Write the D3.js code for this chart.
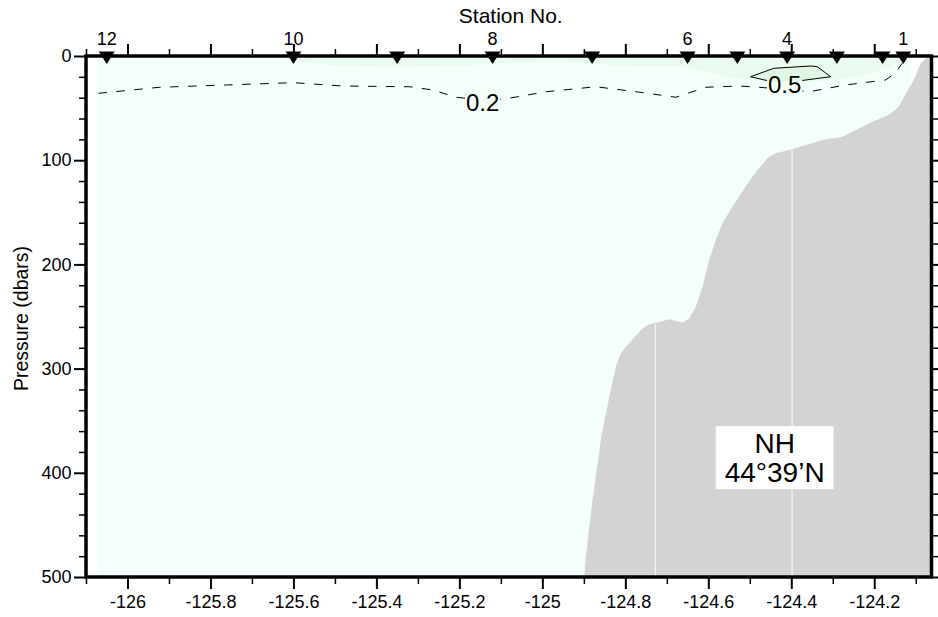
<!DOCTYPE html>
<html><head><meta charset="utf-8">
<script src="https://cdn.jsdelivr.net/npm/d3@7"></script>
<style>
html,body{margin:0;padding:0;background:#fff;}
svg{display:block;}
text{font-family:"Liberation Sans",Arial,Helvetica,sans-serif;fill:#000;}
</style>
</head><body>
<svg id="chart" width="938" height="617"></svg>
<script>
// ---------------- data ----------------
const stationLon = [-126.05, -125.60, -125.35, -125.12, -124.88, -124.65, -124.53, -124.41, -124.29, -124.18, -124.13];
const stationNo  = [12, 10, 9, 8, 7, 6, 5, 4, 3, 2, 1];
const stationLabeled = [12, 10, 8, 6, 4, 1];

const bathyLon = [-124.899, -124.895, -124.887, -124.879, -124.869, -124.859, -124.847, -124.835, -124.823, -124.811,
                  -124.795, -124.762, -124.747, -124.726, -124.694, -124.662, -124.646, -124.630, -124.614, -124.598,
                  -124.582, -124.566, -124.542, -124.526, -124.494, -124.458, -124.438, -124.398, -124.365, -124.325,
                  -124.277, -124.253, -124.205, -124.165, -124.141, -124.119, -124.105, -124.088, -124.071, -124.065];
const bathyP   = [500, 480.5, 451.7, 426.1, 397.3, 368.5, 342.9, 320.5, 298.2, 285.3,
                  277.4, 263.0, 258.2, 256.0, 252.7, 256.0, 251.7, 240.6, 221.4, 195.8,
                  176.6, 160.6, 144.6, 135.0, 115.8, 98.2, 93.4, 89.5, 85.4, 80.6,
                  77.4, 72.6, 63.1, 56.6, 48.7, 32.6, 23.0, 7.0, 1.0, 0];

const c02Lon = [-126.070, -125.922, -125.761, -125.601, -125.481, -125.320, -125.264, -125.208, -125.150, -125.096,
                -124.991, -124.871, -124.774, -124.678, -124.606, -124.526, -124.478, -124.416, -124.357, -124.269,
                -124.173, -124.149, -124.133];
const c02P   = [35.8, 30.0, 27.8, 25.6, 28.8, 29.5, 32.6, 39.6, 42.0, 41.6,
                34.3, 29.5, 34.3, 39.6, 30.0, 28.8, 30.0, 32.0, 34.3, 27.8,
                23.0, 16.6, 7.0];

const c05Lon = [-124.498, -124.442, -124.353, -124.337, -124.305, -124.374, -124.454];
const c05P   = [19.9, 11.8, 9.6, 10.3, 19.9, 23.5, 24.0];

const shadeLon = [-125.633, -125.585, -125.489, -125.344, -125.200, -125.057, -124.959, -124.863, -124.767, -124.671,
                  -124.623, -124.526, -124.430, -124.286, -124.189, -124.129, -124.117];
const shadeP   = [0, 5.8, 9.6, 11.5, 9.6, 5.8, 3.8, 7.7, 11.5, 9.6,
                  13.4, 23.0, 26.0, 24.0, 15.4, 3.8, 0];

const sectionLon = [-126.07, -124.113];
const gapLon = [-124.728, -124.398];

const contourLabelText = ["0.2", "0.5"];
const contourLabelLon  = [-125.144, -124.416];
const contourLabelP    = [44.2, 27.2];

const xMajor = [-126, -125.8, -125.6, -125.4, -125.2, -125, -124.8, -124.6, -124.4, -124.2];
const xMinor = [-126.1, -125.9, -125.7, -125.5, -125.3, -125.1, -124.9, -124.7, -124.5, -124.3, -124.1];
const yMajor = [0, 100, 200, 300, 400, 500];
const yMinor = [20, 40, 60, 80, 120, 140, 160, 180, 220, 240, 260, 280, 320, 340, 360, 380, 420, 440, 460, 480];

const locName = ["NH", "44°39’N"];
const locLon = -124.44, locP = 385;

// ---------------- drawing ----------------
const FONT = '"Liberation Sans",Arial,Helvetica,sans-serif';
const svg = d3.select("#chart");
const x = d3.scaleLinear().domain([-126.1, -124.062]).range([86, 931.5]);
const y = d3.scaleLinear().domain([0, 500]).range([56, 577]);
const X0 = x.range()[0], X1 = x.range()[1], Y0 = y.range()[0], Y1 = y.range()[1];

const defs = svg.append("defs");
defs.append("clipPath").attr("id", "plotclip")
  .append("rect").attr("x", X0).attr("y", Y0).attr("width", X1 - X0).attr("height", Y1 - Y0);
const mask = defs.append("mask").attr("id", "lblmask").attr("maskUnits", "userSpaceOnUse")
  .attr("x", 0).attr("y", 0).attr("width", 938).attr("height", 617);
mask.append("rect").attr("x", 0).attr("y", 0).attr("width", 938).attr("height", 617).attr("fill", "#fff");

const plot = svg.append("g").attr("clip-path", "url(#plotclip)");

// background section fill
plot.append("rect")
  .attr("x", x(sectionLon[0])).attr("y", y(0))
  .attr("width", x(sectionLon[1]) - x(sectionLon[0])).attr("height", y(500) - y(0))
  .attr("fill", "#f5fffa");

// shaded near-surface layer
const shade = shadeLon.map((l, i) => [l, shadeP[i]]);
plot.append("path").datum(shade)
  .attr("d", d3.area().x(d => x(d[0])).y0(y(0)).y1(d => y(d[1])).curve(d3.curveBasis))
  .attr("fill", "#e9faee");

// 0.5 region fill
const c05 = c05Lon.map((l, i) => [l, c05P[i]]);
const closedLine = d3.line().x(d => x(d[0])).y(d => y(d[1])).curve(d3.curveLinearClosed);
plot.append("path").datum(c05).attr("d", closedLine).attr("fill", "#def6e3");

// contour lines (masked under labels)
const lines = plot.append("g").attr("mask", "url(#lblmask)");
const c02 = c02Lon.map((l, i) => [l, c02P[i]]);
lines.append("path").datum(c02)
  .attr("d", d3.line().x(d => x(d[0])).y(d => y(d[1])))
  .attr("fill", "none").attr("stroke", "#000").attr("stroke-width", 1)
  .attr("stroke-dasharray", "8.5,9.5");
lines.append("path").datum(c05).attr("d", closedLine)
  .attr("fill", "none").attr("stroke", "#000").attr("stroke-width", 1);

// bathymetry
const bathy = bathyLon.map((l, i) => [l, bathyP[i]]).concat([[-123.9, 0], [-123.9, 520], [bathyLon[0], 520]]);
plot.append("path").datum(bathy)
  .attr("d", closedLine).attr("fill", "#d3d3d3");

const bathyAt = d3.scaleLinear().domain(bathyLon).range(bathyP);
plot.selectAll("line.gap").data(gapLon).join("line").attr("class", "gap")
  .attr("x1", d => x(d)).attr("x2", d => x(d))
  .attr("y1", d => y(bathyAt(d)) + 1).attr("y2", y(500))
  .attr("stroke", "#fff").attr("stroke-width", 1);

// contour labels
const lbl = plot.selectAll("text.clbl").data(contourLabelText).join("text").attr("class", "clbl")
  .attr("x", (d, i) => x(contourLabelLon[i])).attr("y", (d, i) => y(contourLabelP[i]))
  .attr("dy", "0.36em").attr("text-anchor", "middle")
  .style("font-size", "24px").text(d => d);
lbl.each(function () {
  const b = this.getBBox();
  mask.append("rect").attr("x", b.x - 1).attr("y", b.y + 3).attr("width", b.width + 2).attr("height", b.height - 6).attr("fill", "#000");
});

// axes
const fmt = d => String(+d.toFixed(1));
function styleAxis(g, w) {
  g.select(".domain").remove();
  g.selectAll(".tick line").attr("stroke", "#000").attr("stroke-width", w);
  g.selectAll(".tick text").style("font-size", "18px").style("font-family", FONT).attr("fill", "#000");
}
svg.append("g").attr("transform", `translate(0,${Y1})`)
  .call(d3.axisBottom(x).tickValues(xMajor).tickSize(12).tickPadding(6).tickFormat(fmt)).call(g => styleAxis(g, 2));
svg.append("g").attr("transform", `translate(0,${Y1})`)
  .call(d3.axisBottom(x).tickValues(xMinor).tickSize(7).tickFormat("")).call(g => styleAxis(g, 1.5));
svg.append("g").attr("transform", `translate(0,${Y0})`)
  .call(d3.axisTop(x).tickValues(xMajor).tickSize(12).tickFormat("")).call(g => styleAxis(g, 2));
svg.append("g").attr("transform", `translate(0,${Y0})`)
  .call(d3.axisTop(x).tickValues(xMinor).tickSize(7).tickFormat("")).call(g => styleAxis(g, 1.5));
svg.append("g").attr("transform", `translate(${X0},0)`)
  .call(d3.axisLeft(y).tickValues(yMajor).tickSize(12).tickPadding(2.5).tickFormat(d => String(d))).call(g => styleAxis(g, 2));
svg.append("g").attr("transform", `translate(${X0},0)`)
  .call(d3.axisLeft(y).tickValues(yMinor).tickSize(7).tickFormat("")).call(g => styleAxis(g, 1.5));
svg.append("g").attr("transform", `translate(${X1},0)`)
  .call(d3.axisRight(y).tickValues(yMajor).tickSize(12).tickFormat("")).call(g => styleAxis(g, 2));
svg.append("g").attr("transform", `translate(${X1},0)`)
  .call(d3.axisRight(y).tickValues(yMinor).tickSize(7).tickFormat("")).call(g => styleAxis(g, 1.5));

// frame
svg.append("rect").attr("x", X0).attr("y", Y0).attr("width", X1 - X0).attr("height", Y1 - Y0)
  .attr("fill", "none").attr("stroke", "#000").attr("stroke-width", 3.5);

// station markers
svg.selectAll("path.stn").data(stationLon).join("path").attr("class", "stn")
  .attr("d", d => { const cx = x(d), cy = y(0); return `M${cx - 8},${cy - 4.5}L${cx + 8},${cy - 4.5}L${cx},${cy + 8}Z`; })
  .attr("fill", "#000");
svg.selectAll("text.stnlbl").data(stationLon.filter((d, i) => stationLabeled.includes(stationNo[i])))
  .join("text").attr("class", "stnlbl")
  .attr("x", d => x(d)).attr("y", Y0 - 11.5)
  .attr("text-anchor", "middle").style("font-size", "18px")
  .text(d => stationNo[stationLon.indexOf(d)]);

// titles
svg.append("text").attr("x", (X0 + X1) / 2 + 2).attr("y", 23).attr("text-anchor", "middle")
  .style("font-size", "21px").text("Station No.");
svg.append("text").attr("transform", `translate(27.5,${(Y0 + Y1) / 2 + 2}) rotate(-90)`).attr("text-anchor", "middle")
  .style("font-size", "19.5px").text("Pressure (dbars)");

// location box
const loc = svg.append("g");
const lcx = x(locLon), lcy = y(locP);
const locBox = loc.append("rect").attr("fill", "#fff");
const t1 = loc.append("text").attr("x", lcx).attr("y", lcy - 4.5).attr("text-anchor", "middle").style("font-size", "28px").text(locName[0]);
const t2 = loc.append("text").attr("x", lcx).attr("y", lcy + 24.5).attr("text-anchor", "middle").style("font-size", "28px").text(locName[1]);
const b1 = t1.node().getBBox(), b2 = t2.node().getBBox();
const bx0 = Math.min(b1.x, b2.x) - 9, bx1 = Math.max(b1.x + b1.width, b2.x + b2.width) + 9;
const by0 = b1.y - 1.5, by1 = b2.y + b2.height + 1.5;
locBox.attr("x", bx0).attr("y", by0).attr("width", bx1 - bx0).attr("height", by1 - by0);
</script>
</body></html>
